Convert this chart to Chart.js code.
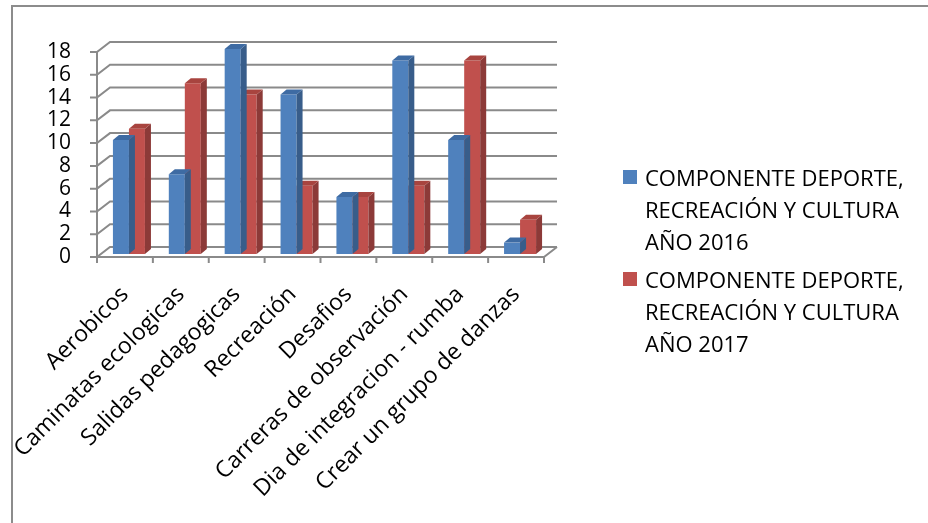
<!DOCTYPE html>
<html>
<head>
<meta charset="utf-8">
<script src="https://cdn.jsdelivr.net/npm/chart.js@4"></script>
<style>
  body { margin: 0; background: #fff; }
  #wrap { position: relative; width: 928px; height: 523px; }
  #legend { position: absolute; left: 623px; top: 161px; font: 22px "Open Sans", sans-serif; color: #000; }
  .item { position: relative; padding-left: 22px; line-height: 32px; margin-bottom: 6px; }
  .sw { position: absolute; left: 0; top: 9px; width: 14px; height: 14px; }
</style>
</head>
<body>
<div id="wrap">
  <canvas id="canvas" width="928" height="523"></canvas>
  <div id="legend"></div>
</div>
<script>
const categories = [
  'Aerobicos',
  'Caminatas ecologicas',
  'Salidas pedagogicas',
  'Recreación',
  'Desafios',
  'Carreras de observación',
  'Dia de integracion - rumba',
  'Crear un grupo de danzas'
];
const values2016 = [10, 7, 18, 14, 5, 17, 10, 1];
const values2017 = [11, 15, 14, 6, 5, 6, 17, 3];
const seriesNames = [
  ['COMPONENTE DEPORTE,', 'RECREACIÓN Y CULTURA', 'AÑO 2016'],
  ['COMPONENTE DEPORTE,', 'RECREACIÓN Y CULTURA', 'AÑO 2017']
];
const yMin = 0, yMax = 18, yStep = 2;

// face colours per series: front, side, top
const faces = [
  { front: '#4F81BD', side: '#385D8A', top: '#3E6BA3' },
  { front: '#C0504D', side: '#8C3A38', top: '#A8443F' }
];

const DEPTH_X = 13, DEPTH_Y = -10;   // back wall offset
const BAR_X = 4, BAR_Y = -3;         // bars sit a bit behind the front plane
const SIDE_X = 6, SIDE_Y = -5;       // bar thickness
const GRID = '#8a8a8a';

const wall3d = {
  id: 'wall3d',
  beforeDatasetsDraw(chart) {
    const { ctx, chartArea: a, scales: { x, y } } = chart;
    ctx.save();
    // outer frame
    ctx.strokeStyle = '#8c8c8c';
    ctx.lineWidth = 2;
    ctx.beginPath();
    ctx.moveTo(12, 523); ctx.lineTo(12, 6); ctx.lineTo(928, 6);
    ctx.stroke();

    ctx.strokeStyle = GRID;
    ctx.lineWidth = 2;
    ctx.beginPath();
    // back wall lines with their side diagonals and tick marks
    for (let v = yMin; v <= yMax; v += yStep) {
      const py = y.getPixelForValue(v);
      ctx.moveTo(a.left - 7, py);
      ctx.lineTo(a.left, py);
      ctx.lineTo(a.left + DEPTH_X, py + DEPTH_Y);
      ctx.lineTo(a.right + DEPTH_X, py + DEPTH_Y);
    }
    // front value axis
    ctx.moveTo(a.left, a.top);
    ctx.lineTo(a.left, a.bottom);
    // floor front edge and right diagonal
    ctx.moveTo(a.left, a.bottom);
    ctx.lineTo(a.right, a.bottom);
    ctx.lineTo(a.right + DEPTH_X, a.bottom + DEPTH_Y);
    // category tick marks
    const step = (a.right - a.left) / categories.length;
    for (let i = 0; i <= categories.length; i++) {
      const px = a.left + i * step;
      ctx.moveTo(px, a.bottom);
      ctx.lineTo(px, a.bottom + 6);
    }
    ctx.stroke();
    ctx.restore();
  },
  beforeDatasetDraw(chart) {
    chart.ctx.save();
    chart.ctx.translate(BAR_X, BAR_Y);
  },
  afterDatasetDraw(chart, args) {
    const { ctx } = chart;
    const f = faces[args.index];
    args.meta.data.forEach(bar => {
      const { x, y, base, width } = bar.getProps(['x', 'y', 'base', 'width'], true);
      const l = x - width / 2, r = x + width / 2;
      // side face
      ctx.fillStyle = f.side;
      ctx.beginPath();
      ctx.moveTo(r, y);
      ctx.lineTo(r + SIDE_X, y + SIDE_Y);
      ctx.lineTo(r + SIDE_X, base + SIDE_Y);
      ctx.lineTo(r, base);
      ctx.closePath();
      ctx.fill();
      // top face
      ctx.fillStyle = f.top;
      ctx.beginPath();
      ctx.moveTo(l, y);
      ctx.lineTo(l + SIDE_X, y + SIDE_Y);
      ctx.lineTo(r + SIDE_X, y + SIDE_Y);
      ctx.lineTo(r, y);
      ctx.closePath();
      ctx.fill();
    });
    ctx.restore();
  }
};

const chart = new Chart(document.getElementById('canvas').getContext('2d'), {
  type: 'bar',
  data: {
    labels: categories,
    datasets: [
      { data: values2016, backgroundColor: faces[0].front, clip: false },
      { data: values2017, backgroundColor: faces[1].front, clip: false }
    ]
  },
  options: {
    responsive: false,
    animation: false,
    layout: { padding: { left: 0, top: 52, right: 384, bottom: 0 } },
    datasets: { bar: { categoryPercentage: 0.573, barPercentage: 1 } },
    plugins: { legend: { display: false }, tooltip: { enabled: false } },
    scales: {
      x: {
        grid: { display: false },
        border: { display: false },
        ticks: {
          color: '#000',
          font: { family: 'Open Sans', size: 23 },
          minRotation: 45, maxRotation: 45,
          autoSkip: false,
          padding: 16
        },
        afterFit: s => { s.height = 266; }
      },
      y: {
        min: yMin, max: yMax,
        grid: { display: false },
        border: { display: false },
        ticks: {
          stepSize: yStep,
          autoSkip: false,
          color: '#000',
          font: { family: 'Open Sans', size: 21 },
          padding: 18
        },
        afterFit: s => { s.width = 97; }
      }
    }
  },
  plugins: [wall3d]
});

// legend with wrapped series names
const legend = document.getElementById('legend');
seriesNames.forEach((lines, i) => {
  const item = document.createElement('div');
  item.className = 'item';
  const sw = document.createElement('span');
  sw.className = 'sw';
  sw.style.background = faces[i].front;
  item.appendChild(sw);
  lines.forEach(t => {
    const d = document.createElement('div');
    d.textContent = t;
    item.appendChild(d);
  });
  legend.appendChild(item);
});
</script>
</body>
</html>
